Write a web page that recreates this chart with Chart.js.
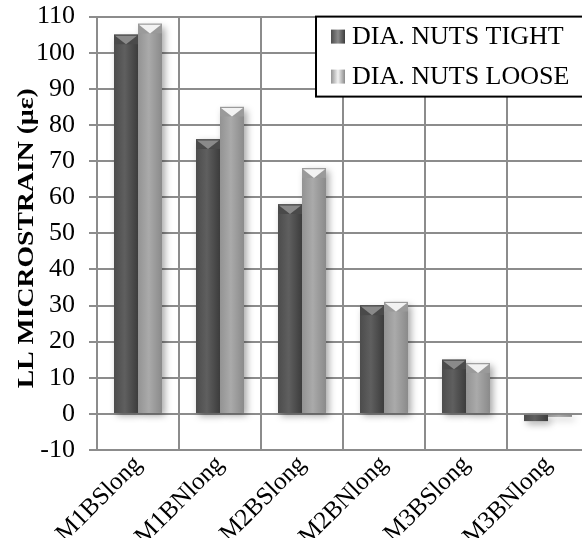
<!DOCTYPE html>
<html>
<head>
<meta charset="utf-8">
<script src="https://cdn.jsdelivr.net/npm/chart.js@4.4.1/dist/chart.umd.min.js"></script>
<style>
  html, body { margin: 0; padding: 0; background: #fff; overflow: hidden; }
  #wrap { width: 590px; height: 538px; }
  .preload { position: absolute; left: -999px; top: 0; font-family: "Liberation Serif"; font-size: 25px; }
</style>
</head>
<body>
<div class="preload">M1BSlong <b>LL MICROSTRAIN (με)</b></div>
<div id="wrap"><canvas id="strainChart"></canvas></div>
<script>
// --- Data ---
const categories = ["M1BSlong", "M1BNlong", "M2BSlong", "M2BNlong", "M3BSlong", "M3BNlong"];
const tightValues = [105, 76, 58, 30, 15, -2];
const looseValues = [108, 85, 68, 31, 14, -0.8];
const seriesLabels = ["DIA. NUTS TIGHT", "DIA. NUTS LOOSE"];
const yTitle = "LL MICROSTRAIN (με)";
const yTicks = { min: -10, max: 110, step: 10 };

const FONT = "'Liberation Serif'";
const GRID = "#8c8c8c";

// bar shading
const shades = [
  { left: "#4c4c4c", mid: "#5f5f5f", right: "#3c3c3c", cap: "#8a8a8a", capEdge: "#4a4a4a" },
  { left: "#939393", mid: "#aaaaaa", right: "#8a8a8a", cap: "#f2f2f2", capEdge: "#9a9a9a" }
];

// --- Bar shading plugin (draws over the library's bars) ---
const bevelBars = {
  id: "bevelBars",
  beforeDatasetsDraw(chart) {
    const c = chart.ctx;
    c.save();
    c.shadowColor = "rgba(0,0,0,0.35)";
    c.shadowBlur = 7;
    c.shadowOffsetX = 3;
    c.shadowOffsetY = 3;
  },
  afterDatasetsDraw(chart) {
    const c = chart.ctx;
    c.restore();
    chart.data.datasets.forEach((ds, di) => {
      const s = shades[di];
      chart.getDatasetMeta(di).data.forEach(bar => {
        const left = bar.x - bar.width / 2;
        const right = bar.x + bar.width / 2;
        const top = Math.min(bar.y, bar.base);
        const bottom = Math.max(bar.y, bar.base);
        const g = c.createLinearGradient(left, 0, right, 0);
        g.addColorStop(0, s.left);
        g.addColorStop(0.45, s.mid);
        g.addColorStop(1, s.right);
        c.fillStyle = g;
        c.fillRect(left, top, bar.width, bottom - top);
        if (bar.y < bar.base) {
          // top bevel
          const h = Math.min(bar.width * 0.4, bottom - top);
          c.fillStyle = s.capEdge;
          c.fillRect(left, top, bar.width, h);
          c.beginPath();
          c.moveTo(left + 1, top + 1);
          c.lineTo(right - 1, top + 1);
          c.lineTo(bar.x, top + h);
          c.closePath();
          c.fillStyle = s.cap;
          c.fill();
        }
      });
    });
  }
};

// --- Y title (tall, narrow bold text like the original) ---
const yTitlePlugin = {
  id: "yTitlePlugin",
  afterDraw(chart) {
    const c = chart.ctx;
    const area = chart.chartArea;
    c.save();
    c.font = "bold 23px " + FONT;
    const w = c.measureText(yTitle).width;
    const sx = 300 / w;
    c.translate(27, (area.top + area.bottom) / 2 + 5);
    c.rotate(-Math.PI / 2);
    c.scale(sx, 1);
    c.fillStyle = "#000";
    c.textAlign = "center";
    c.textBaseline = "middle";
    c.fillText(yTitle, 0, 0);
    c.restore();
  }
};

// --- Legend box plugin ---
const boxLegend = {
  id: "boxLegend",
  afterDraw(chart) {
    const c = chart.ctx;
    const area = chart.chartArea;
    const x0 = area.right - 273;
    const y0 = area.top;
    c.save();
    c.fillStyle = "#fff";
    c.fillRect(x0, y0, 300, 80);
    c.strokeStyle = "#000";
    c.lineWidth = 2;
    c.strokeRect(x0, y0, 300, 80);
    c.font = "26px " + FONT;
    c.textBaseline = "middle";
    seriesLabels.forEach((lbl, i) => {
      const cy = y0 + 20 + i * 40;
      const s = shades[i];
      const g = c.createLinearGradient(x0 + 15, 0, x0 + 29, 0);
      g.addColorStop(0, s.left);
      g.addColorStop(0.5, s.cap);
      g.addColorStop(1, s.right);
      c.fillStyle = g;
      c.fillRect(x0 + 15, cy - 7, 14, 14);
      c.fillStyle = "#000";
      c.fillText(lbl, x0 + 36, cy + 1);
    });
    c.restore();
  }
};

// --- Chart setup ---
function drawChart() {
  const ctx = document.getElementById("strainChart").getContext("2d");
  new Chart(ctx, {
    type: "bar",
    data: {
      labels: categories,
      datasets: [
        { label: seriesLabels[0], data: tightValues, backgroundColor: shades[0].mid },
        { label: seriesLabels[1], data: looseValues, backgroundColor: shades[1].mid }
      ]
    },
    options: {
      responsive: true,
      maintainAspectRatio: false,
      animation: false,
      devicePixelRatio: 1,
      categoryPercentage: 0.585,
      barPercentage: 1.0,
      layout: { padding: { top: 0, right: 1, left: 0, bottom: 0 } },
      plugins: {
        legend: { display: false },
        tooltip: { enabled: false }
      },
      scales: {
        x: {
          afterFit: s => { s.height = 88; },
          grid: { color: GRID, lineWidth: 2, drawTicks: false, offset: true },
          border: { color: GRID, width: 2 },
          ticks: {
            color: "#000",
            font: { family: FONT, size: 25 },
            minRotation: 45,
            maxRotation: 45,
            padding: 0
          }
        },
        y: {
          min: yTicks.min,
          max: yTicks.max,
          afterFit: s => { s.width = 97; },
          grid: { color: GRID, lineWidth: 2, tickLength: 8 },
          border: { color: GRID, width: 2 },
          ticks: {
            stepSize: yTicks.step,
            autoSkip: false,
            color: "#000",
            font: { family: FONT, size: 26, lineHeight: 0.2 },
            padding: 14
          },
          title: { display: false }
        }
      }
    },
    plugins: [bevelBars, boxLegend, yTitlePlugin]
  });
}

Promise.all([
  document.fonts.load("25px 'Liberation Serif'"),
  document.fonts.load("bold 25px 'Liberation Serif'")
]).then(drawChart, drawChart);
</script>
</body>
</html>
